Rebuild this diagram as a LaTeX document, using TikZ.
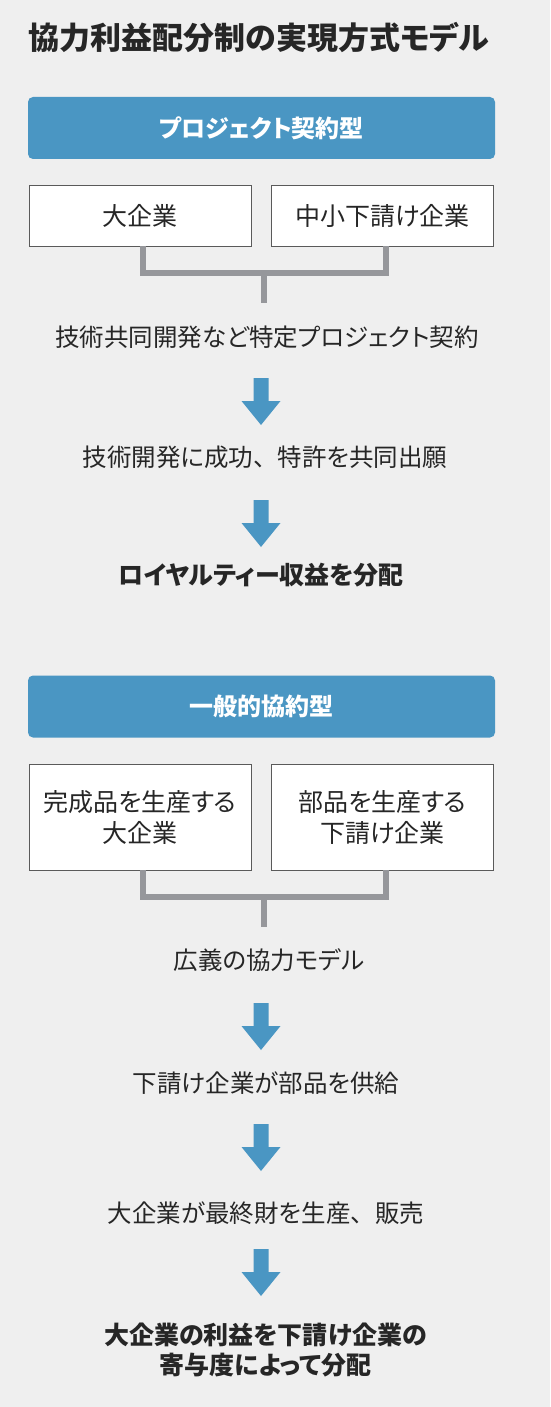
\documentclass[tikz,border=0pt]{standalone}
\usepackage{fontspec}
\setmainfont{Noto Sans CJK JP}[RawFeature=+palt]
\usetikzlibrary{positioning}
\definecolor{flowblue}{HTML}{4A96C3}
\definecolor{bggray}{HTML}{EFEFEF}
\definecolor{linkgray}{HTML}{96979B}
\definecolor{ink}{HTML}{262626}
\definecolor{boxline}{HTML}{5A5A5A}
\newcommand\widecomma{{\addfontfeature{RawFeature=-palt}、}}

\begin{document}
\begin{tikzpicture}[x=1pt,y=-1pt,every node/.style={outer sep=0pt,text=ink},
 header/.style={fill=flowblue,rounded corners=5pt,minimum width=467pt,
 minimum height=62pt,text=white,font=\fontsize{24}{30}\selectfont\bfseries},
 firm/.style={draw=boxline,fill=white,line width=0.8pt,minimum width=222pt,
 align=center,font=\fontsize{25}{31}\selectfont},
 stage/.style={align=center,font=\fontsize{24.5}{30}\selectfont},
 result/.style={align=center,font=\fontsize{25}{30}\selectfont\bfseries},
 bracket/.style={linkgray,line width=6pt},
 flowarrow/.pic={\fill[flowblue] (-7.5,0) -- (7.5,0) -- (7.5,23) -- (19.5,23)
 -- (0,47) -- (-19.5,23) -- (-7.5,23) -- cycle;}]

  \fill[bggray] (0,0) rectangle (550,1407);
  \useasboundingbox (0,0) rectangle (550,1407);

  \node[font=\fontsize{31}{36}\selectfont\bfseries] (title) at (259,38)
   {協力利益配分制の実現方式モデル};

  \node[header] (typeA) at (261.5,128) {プロジェクト契約型};
  \node[firm,minimum height=61pt] (bigA) at (140,215.5) {大企業};
  \node[firm,minimum height=61pt] (subA) at (382.5,215.5) {中小下請け企業};

  \coordinate (joinA) at (264,273);
  \coordinate (stemA) at (264,303);
  \draw[bracket] ([xshift=3pt]bigA.south) |- (joinA) -| ([xshift=3pt]subA.south);
  \draw[bracket] (joinA) -- (stemA);

  \node[stage] (stepA1) at (267,337) {技術共同開発など特定プロジェクト契約};
  \node[stage] (stepA2) at (265,457) {技術開発に成功\widecomma 特許を共同出願};
  \node[result] (payA) at (261,575) {ロイヤルティー収益を分配};

  \node[header] (typeB) at (261.5,706.5) {一般的協約型};
  \node[firm,minimum height=106pt] (bigB) at (140,817)
   {完成品を生産する\\大企業};
  \node[firm,minimum height=106pt] (subB) at (382.5,817)
   {部品を生産する\\下請け企業};

  \coordinate (joinB) at (264,897);
  \coordinate (stemB) at (264,927);
  \draw[bracket] ([xshift=3pt]bigB.south) |- (joinB) -| ([xshift=3pt]subB.south);
  \draw[bracket] (joinB) -- (stemB);

  \node[stage] (stepB1) at (269,960) {広義の協力モデル};
  \node[stage] (stepB2) at (266,1083) {下請け企業が部品を供給};
  \node[stage] (stepB3) at (266,1213) {大企業が最終財を生産\widecomma 販売};
  \node[result] (payB) at (265.5,1350)
   {大企業の利益を下請け企業の\\寄与度によって分配};

  \foreach \Y in {378,500,1003,1124,1249}
   \pic at (261,\Y) {flowarrow};

\end{tikzpicture}
\end{document}
